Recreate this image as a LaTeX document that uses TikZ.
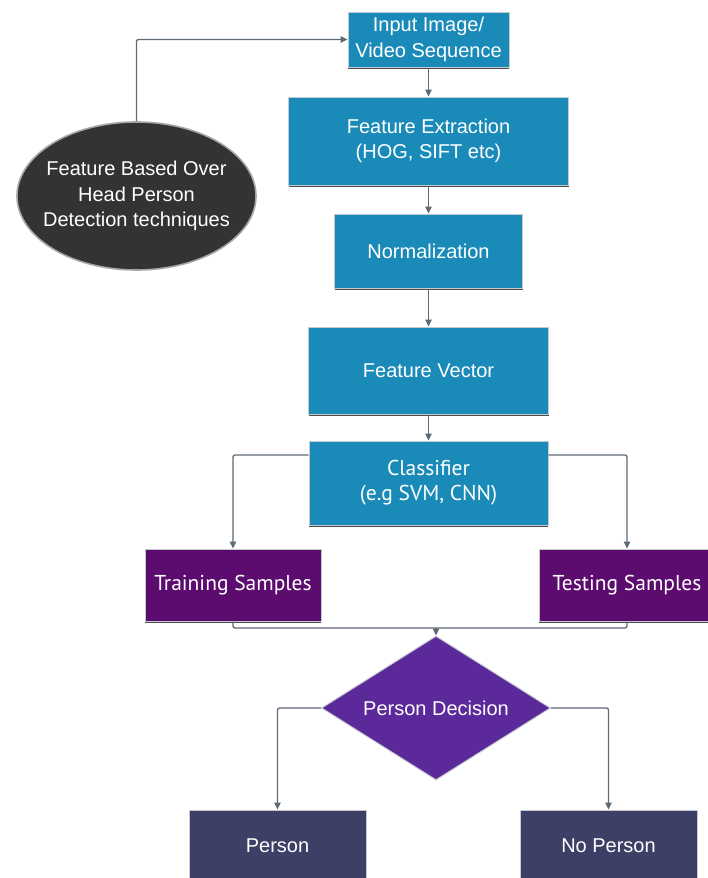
\documentclass[tikz,border=0pt]{standalone}
\usepackage{fontspec}
\setmainfont{Liberation Sans}
\newfontfamily\narrowfont{PT Sans}
\usetikzlibrary{shapes.geometric,arrows.meta,shadows}
\definecolor{boxblue}{HTML}{1A8BB8}
\definecolor{samplepurple}{HTML}{5C0C6E}
\definecolor{decisionviolet}{HTML}{5B2999}
\definecolor{outslate}{HTML}{3D3F66}
\definecolor{ovalgrey}{HTML}{333333}
\definecolor{wire}{HTML}{5E6976}
\definecolor{rim}{HTML}{C4CACF}
\begin{document}
\begin{tikzpicture}[x=1pt,y=-1pt,
  every node/.style={text=white,align=center,inner sep=0pt},
  boxbase/.style={rectangle,draw=rim,line width=1pt,
    drop shadow={shadow xshift=0pt,shadow yshift=-1.6pt,fill=black!70,opacity=1}},
  bluebox/.style={boxbase,fill=boxblue,font=\fontsize{20}{25.5}\selectfont},
  samplebox/.style={boxbase,fill=samplepurple,font=\narrowfont\fontsize{21.5}{25}\selectfont},
  resultbox/.style={boxbase,fill=outslate,font=\fontsize{20}{25}\selectfont},
  decision/.style={diamond,aspect=1.59,draw=rim,line width=1pt,fill=decisionviolet,
    font=\fontsize{20}{25}\selectfont},
  oval/.style={ellipse,inner xsep=-14pt,draw=black!35,line width=1.6pt,fill=ovalgrey,
    font=\fontsize{20}{25.5}\selectfont},
  arr/.style={draw=wire,line width=1.3pt,rounded corners=2pt,
    -{Triangle[length=7pt,width=6.5pt]}},
  link/.style={draw=wire,line width=1.3pt,rounded corners=2pt}]
\useasboundingbox (0,0) rectangle (707,878);
\fill[white] (0,0) rectangle (707,878);

\node[bluebox,minimum width=161pt,minimum height=55pt] (in) at (428.5,39.5)
  {Input Image/\\Video Sequence};
\node[bluebox,minimum width=280pt,minimum height=88pt] (fe) at (428.5,141)
  {Feature Extraction\\(HOG, SIFT etc)};
\node[bluebox,minimum width=188pt,minimum height=74pt] (nm) at (428.5,251)
  {Normalization};
\node[bluebox,minimum width=240pt,minimum height=87pt] (fv) at (428.5,370.5)
  {Feature Vector};
\node[bluebox,minimum width=239pt,minimum height=84pt,
  font=\narrowfont\fontsize{21.5}{25}\selectfont] (cl) at (428.5,483)
  {Classifier\\(e.g SVM, CNN)};
\node[samplebox,minimum width=176pt,minimum height=72pt] (tr) at (233,585)
  {Training Samples};
\node[samplebox,minimum width=176pt,minimum height=72pt] (ts) at (627,585)
  {Testing Samples};
\node[decision,minimum width=229pt,minimum height=144pt] (dc) at (436,708)
  {Person Decision};
\node[resultbox,minimum width=177pt,minimum height=72pt] (ps) at (277.5,846)
  {Person};
\node[resultbox,minimum width=177pt,minimum height=72pt] (np) at (608.5,846)
  {No Person};
\node[oval,minimum width=239pt,minimum height=148pt] (ov) at (136.5,196)
  {\raisebox{0pt}[0pt][0pt]{}Feature Based Over\\Head Person\\Detection techniques};

\coordinate (mg) at (436,628);

\draw[arr] (ov.north) |- (in.west);
\draw[arr] (in) -- (fe);
\draw[arr] (fe) -- (nm);
\draw[arr] (nm) -- (fv);
\draw[arr] (fv) -- (cl);
\draw[arr] ([yshift=28pt]cl.west) -| (tr.north);
\draw[arr] ([yshift=28pt]cl.east) -| (ts.north);
\draw[link] (tr.south) |- (mg);
\draw[link] (ts.south) |- (mg);
\draw[arr] (mg) -- (dc.north);
\draw[arr] (dc.west) -| (ps.north);
\draw[arr] (dc.east) -| (np.north);
\end{tikzpicture}
\end{document}
